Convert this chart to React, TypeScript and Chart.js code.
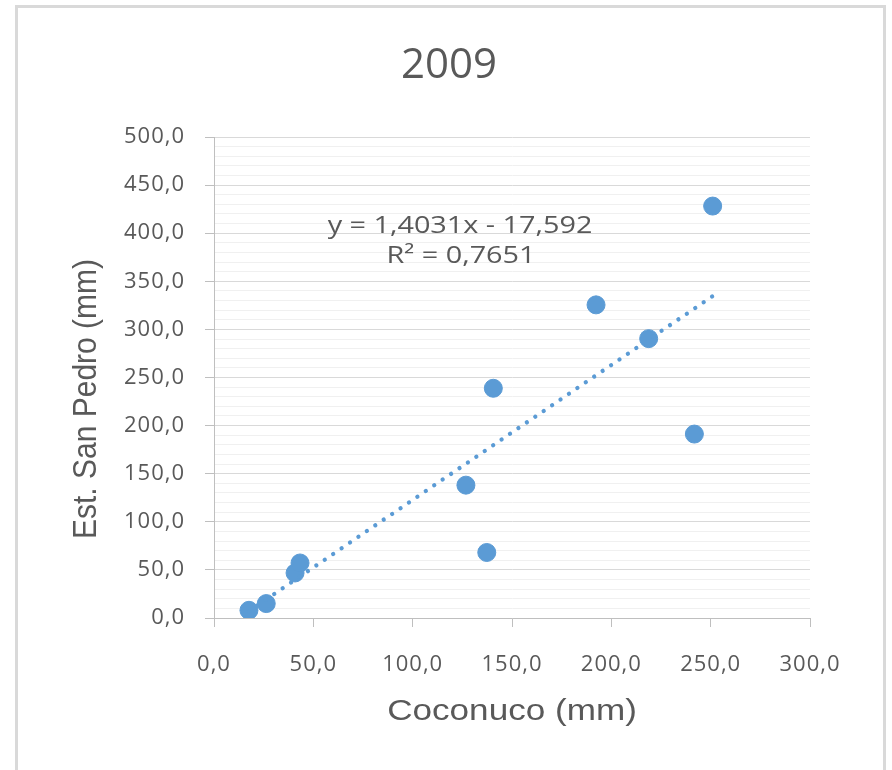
import React, { useEffect, useRef } from "react";
import { Chart, registerables } from "chart.js";

Chart.register(...registerables);

const chartTitle = "2009";
const xAxisTitle = "Coconuco (mm)";
const yAxisTitle = "Est. San Pedro (mm)";
const coconuco = [17.6, 26.3, 40.8, 43.3, 126.8, 137.3, 140.6, 192.3, 218.8, 241.8, 251.0];
const sanPedro = [8.0, 15.0, 46.8, 57.2, 138.1, 68.1, 238.8, 325.5, 290.4, 191.2, 428.2];
const trendSlope = 1.4031;
const trendIntercept = -17.592;
const equationText = "y = 1,4031x - 17,592";
const r2Text = "R² = 0,7651";
const xTicks = [0, 50, 100, 150, 200, 250, 300];
const yTicks = [0, 50, 100, 150, 200, 250, 300, 350, 400, 450, 500];

const BLUE = "#5B9BD5";
const TEXT = "#595959";
const fmt = (v: number) => v.toFixed(1).replace(".", ",");

export default function App() {
  const ref = useRef<HTMLCanvasElement | null>(null);

  useEffect(() => {
    if (!ref.current) return;
    const xmin = Math.min(...coconuco);
    const xmax = Math.max(...coconuco);
    const trend = [xmin, xmax].map((x) => ({ x, y: trendSlope * x + trendIntercept }));
    const points = coconuco.map((x, i) => ({ x, y: sanPedro[i] }));

    const drawStretched = (ctx: any, text: string, x: number, y: number, sx: number) => {
      ctx.save();
      ctx.translate(x, y);
      ctx.scale(sx, 1);
      ctx.fillText(text, 0, 0);
      ctx.restore();
    };

    const textPlugin = {
      id: "textPlugin",
      beforeDraw(chart: any) {
        const ctx = chart.ctx;
        ctx.save();
        ctx.fillStyle = "#ffffff";
        ctx.fillRect(0, 0, chart.width, chart.height);
        ctx.strokeStyle = "#D9D9D9";
        ctx.lineWidth = 3;
        ctx.strokeRect(16.5, 6.5, 868, 900);
        ctx.restore();
        try {
          ctx.letterSpacing = "1px";
        } catch (e) {}
      },
      afterDraw(chart: any) {
        const ctx = chart.ctx;
        try {
          ctx.letterSpacing = "0px";
        } catch (e) {}
        const { left, right } = chart.chartArea;
        ctx.save();
        ctx.fillStyle = TEXT;
        ctx.textAlign = "center";
        ctx.textBaseline = "middle";
        ctx.font = '42px "Open Sans"';
        ctx.fillText(chartTitle, 449, 66);
        ctx.font = '24px "Open Sans"';
        drawStretched(ctx, equationText, 460, 226, 1.2);
        drawStretched(ctx, r2Text, 461, 256, 1.2);
        ctx.font = '30px "Liberation Sans"';
        drawStretched(ctx, xAxisTitle, (left + right) / 2, 712, 1.17);
        ctx.translate(87, 399);
        ctx.rotate(-Math.PI / 2);
        ctx.scale(1, 1.12);
        ctx.fillText(yAxisTitle, 0, 0);
        ctx.restore();
      },
    };

    const chart = new Chart(ref.current, {
      type: "scatter",
      data: {
        datasets: [
          {
            type: "line",
            label: "trend",
            data: trend,
            borderColor: BLUE,
            borderWidth: 4.3,
            borderDash: [0.01, 10.17],
            borderCapStyle: "round",
            pointRadius: 0,
            showLine: true,
            fill: false,
            order: 0,
          } as any,
          {
            label: "2009",
            data: points,
            backgroundColor: BLUE,
            borderColor: BLUE,
            borderWidth: 1,
            pointRadius: 9,
            order: 1,
          },
        ],
      },
      options: {
        responsive: false,
        animation: false,
        devicePixelRatio: 1,
        layout: { padding: { left: 0, top: 137, right: 82, bottom: 0 } },
        plugins: {
          legend: { display: false },
          title: { display: false },
          tooltip: { enabled: false },
        },
        scales: {
          x: {
            type: "linear",
            min: 0,
            max: 300,
            afterFit: (s: any) => {
              s.height = 152;
            },
            afterBuildTicks: (s: any) => {
              s.ticks = xTicks.map((v) => ({ value: v }));
            },
            ticks: {
              autoSkip: false,
              maxRotation: 0,
              padding: 25,
              color: TEXT,
              font: { family: '"Open Sans"', size: 22 },
              callback: (v: any) => fmt(Number(v)),
            },
            grid: {
              drawOnChartArea: false,
              drawTicks: true,
              tickLength: 9,
              tickColor: "#BFBFBF",
              color: "#BFBFBF",
            },
            border: { display: true, color: "#BFBFBF", width: 1 },
          },
          y: {
            type: "linear",
            min: 0,
            max: 500,
            afterFit: (s: any) => {
              s.width = 214;
            },
            ticks: {
              stepSize: 10,
              autoSkip: false,
              padding: 20,
              color: TEXT,
              font: { family: '"Open Sans"', size: 22 },
              callback: (v: any) => (yTicks.includes(Number(v)) ? fmt(Number(v)) : ""),
            },
            grid: {
              drawTicks: true,
              tickLength: 9,
              color: (c: any) => (yTicks.includes(c.tick?.value) ? "#D9D9D9" : "#F0F0F0"),
              tickColor: (c: any) => (yTicks.includes(c.tick?.value) ? "#BFBFBF" : "rgba(0,0,0,0)"),
            },
            border: { display: true, color: "#BFBFBF", width: 1 },
          },
        },
      },
      plugins: [textPlugin],
    });
    return () => chart.destroy();
  }, []);

  return (
    <div style={{ position: "absolute", left: 0, top: 0, width: 892, height: 770, background: "#fff" }}>
      <canvas ref={ref} width={892} height={770} style={{ display: "block" }} />
    </div>
  );
}
